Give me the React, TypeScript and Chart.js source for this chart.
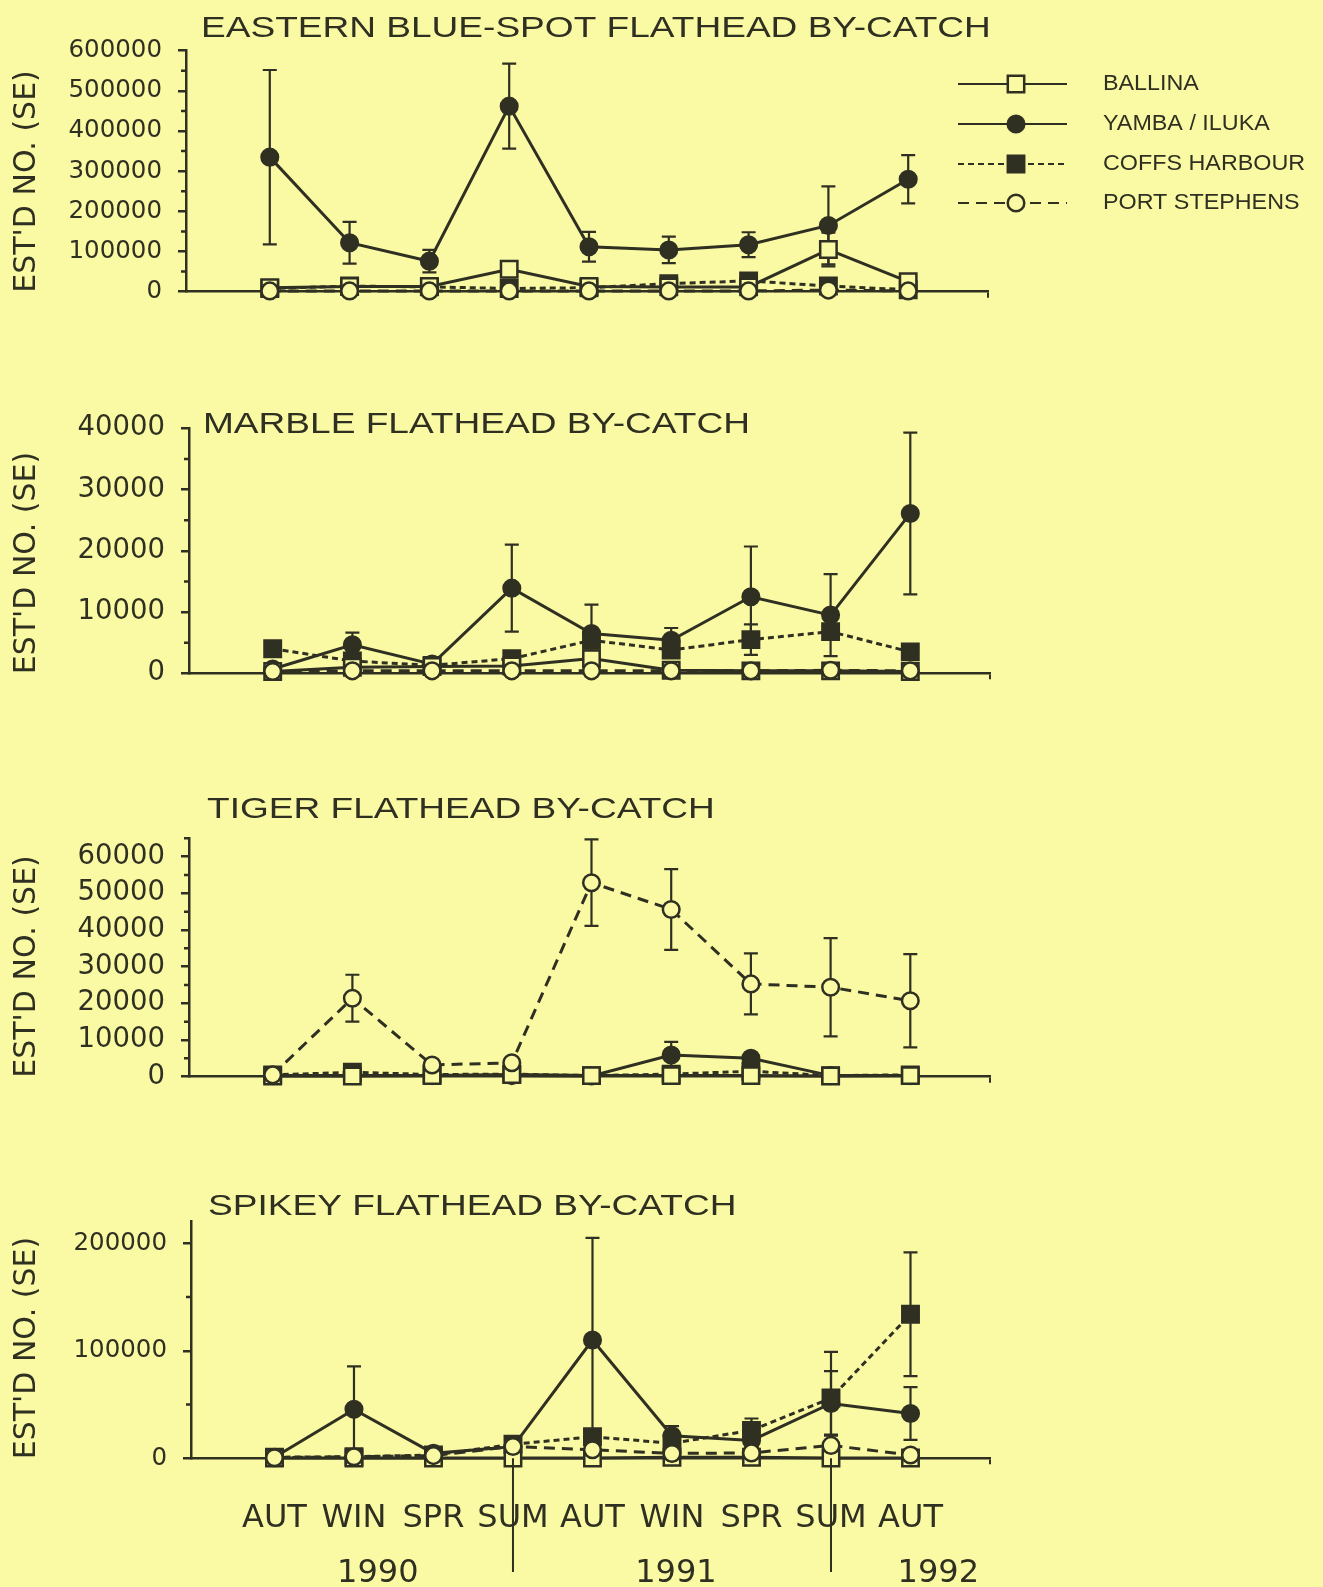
import React, { useEffect, useRef } from 'react';
import { Chart, registerables } from 'chart.js';
Chart.register(...registerables);

const BG = 'rgb(250,250,165)';
const INK = 'rgb(48,48,34)';

// ---------- categories / labels ----------
const seasons = ['AUT', 'WIN', 'SPR', 'SUM', 'AUT', 'WIN', 'SPR', 'SUM', 'AUT'];
const seriesNames = ['BALLINA', 'YAMBA / ILUKA', 'COFFS HARBOUR', 'PORT STEPHENS'];
const yearLabels = ['1990', '1991', '1992'];
const yearPositions = [1.3, 5.05, 8.35];
const yearDividers = [3, 7];

// ---------- Eastern blue-spot ----------
const blueSpotBallina = [10000, 13000, 13000, 56000, 13000, 12000, 12000, 105000, 25000];
const blueSpotBallinaErr = [0, 0, 0, 20000, 0, 0, 0, 42000, 0];
const blueSpotYamba = [335000, 122000, 76000, 462000, 112000, 104000, 117000, 165000, 280000];
const blueSpotYambaErr = [217000, 52000, 28000, 106000, 37000, 33000, 31000, 97000, 60000];
const blueSpotCoffs = [8000, 14000, 12000, 8000, 10000, 20000, 27000, 14000, 5000];
const blueSpotCoffsErr = [0, 0, 0, 0, 0, 0, 0, 0, 0];
const blueSpotPort = [2000, 2000, 2000, 2000, 2000, 2000, 2000, 4000, 2000];
const blueSpotPortErr = [0, 0, 0, 0, 0, 0, 0, 0, 0];
const blueSpotTicks = [0, 100000, 200000, 300000, 400000, 500000, 600000];
const blueSpotMinorTicks = [50000, 150000, 250000, 350000, 450000, 550000];

// ---------- Marble ----------
const marbleBallina = [300, 1000, 1100, 1200, 2400, 500, 400, 400, 300];
const marbleBallinaErr = [0, 0, 0, 0, 0, 0, 0, 0, 0];
const marbleYamba = [700, 4650, 1500, 13900, 6500, 5400, 12500, 9500, 26100];
const marbleYambaErr = [0, 2000, 0, 7100, 4700, 2000, 8200, 6700, 13200];
const marbleCoffs = [4000, 2000, 1300, 2400, 5400, 3800, 5500, 6800, 3500];
const marbleCoffsErr = [1200, 0, 0, 0, 0, 0, 2500, 0, 0];
const marblePort = [300, 400, 400, 400, 400, 400, 400, 500, 400];
const marblePortErr = [0, 0, 0, 0, 0, 0, 0, 0, 0];
const marbleTicks = [0, 10000, 20000, 30000, 40000];
const marbleMinorTicks = [5000, 15000, 25000, 35000];

// ---------- Tiger ----------
const tigerBallina = [200, 200, 300, 600, 300, 300, 300, 200, 300];
const tigerBallinaErr = [0, 0, 0, 0, 0, 0, 0, 0, 0];
const tigerYamba = [300, 300, 300, 300, 200, 5900, 5000, 300, 300];
const tigerYambaErr = [0, 0, 0, 0, 0, 3600, 1500, 0, 0];
const tigerCoffs = [500, 1200, 600, 700, 300, 700, 1500, 300, 500];
const tigerCoffsErr = [0, 0, 0, 0, 0, 0, 0, 0, 0];
const tigerPort = [500, 21400, 3200, 3800, 52900, 45600, 25300, 24400, 20700];
const tigerPortErr = [0, 6400, 0, 0, 11800, 11000, 8300, 13400, 12700];
const tigerTicks = [0, 10000, 20000, 30000, 40000, 50000, 60000];
const tigerMinorTicks = [5000, 15000, 25000, 35000, 45000, 55000, 65000];

// ---------- Spikey ----------
const spikeyBallina = [300, 300, 300, 300, 300, 1000, 1000, 300, 300];
const spikeyBallinaErr = [0, 0, 0, 0, 0, 0, 0, 0, 0];
const spikeyYamba = [1000, 45500, 4600, 10800, 110000, 21000, 16600, 51000, 41700];
const spikeyYambaErr = [0, 40000, 0, 0, 95000, 9000, 0, 30000, 24500];
const spikeyCoffs = [1000, 1500, 3000, 13000, 20000, 14000, 26000, 56000, 134000];
const spikeyCoffsErr = [0, 0, 0, 0, 0, 0, 11000, 43000, 57500];
const spikeyPort = [500, 1500, 2500, 11000, 8000, 4500, 5000, 12000, 3000];
const spikeyPortErr = [0, 0, 0, 0, 0, 0, 0, 10000, 0];
const spikeyTicks = [0, 100000, 200000];
const spikeyMinorTicks = [50000, 150000];

// ---------- styles per series (Ballina, Yamba, Coffs, Port Stephens) ----------
const SERIES_STYLE = [
  { dash: [], shape: 'rect', filled: false, order: 1 },
  { dash: [], shape: 'circle', filled: true, order: 2 },
  { dash: [6, 4], shape: 'rect', filled: true, order: 3 },
  { dash: [11, 7], shape: 'circle', filled: false, order: 0 },
];
const CIRCLE_R = 8.3;
const RECT_R = 11.6;

// ---------- panel layout ----------
const PANELS = [
  {
    title: 'EASTERN BLUE-SPOT FLATHEAD BY-CATCH',
    values: [blueSpotBallina, blueSpotYamba, blueSpotCoffs, blueSpotPort],
    errors: [blueSpotBallinaErr, blueSpotYambaErr, blueSpotCoffsErr, blueSpotPortErr],
    yMax: 600000, ticks: blueSpotTicks, minor: blueSpotMinorTicks, tickFont: 24.5,
    band: [0, 345], area: { left: 186, right: 988, top: 50.7, bottom: 291.7 },
    titlePos: [201, 37], legend: true, xLabels: false,
  },
  {
    title: 'MARBLE FLATHEAD BY-CATCH',
    values: [marbleBallina, marbleYamba, marbleCoffs, marblePort],
    errors: [marbleBallinaErr, marbleYambaErr, marbleCoffsErr, marblePortErr],
    yMax: 40000, ticks: marbleTicks, minor: marbleMinorTicks, tickFont: 27.5,
    band: [345, 730], area: { left: 189, right: 990, top: 428.3, bottom: 673.3 },
    titlePos: [203, 433], legend: false, xLabels: false,
  },
  {
    title: 'TIGER FLATHEAD BY-CATCH',
    values: [tigerBallina, tigerYamba, tigerCoffs, tigerPort],
    errors: [tigerBallinaErr, tigerYambaErr, tigerCoffsErr, tigerPortErr],
    yMax: 65000, ticks: tigerTicks, minor: tigerMinorTicks, tickFont: 27.5,
    band: [730, 1110], area: { left: 189, right: 990, top: 838.3, bottom: 1076.7 },
    titlePos: [207, 818], legend: false, xLabels: false,
  },
  {
    title: 'SPIKEY FLATHEAD BY-CATCH',
    values: [spikeyBallina, spikeyYamba, spikeyCoffs, spikeyPort],
    errors: [spikeyBallinaErr, spikeyYambaErr, spikeyCoffsErr, spikeyPortErr],
    yMax: 220000, ticks: spikeyTicks, minor: spikeyMinorTicks, tickFont: 24.5,
    band: [1110, 1587], area: { left: 191, right: 990, top: 1221.7, bottom: 1458.3 },
    titlePos: [208, 1215], legend: false, xLabels: true,
  },
];

const W = 1323;

function drawMarker(ctx: CanvasRenderingContext2D, x: number, y: number, st: any) {
  ctx.save();
  ctx.setLineDash([]);
  ctx.lineWidth = 2.5;
  ctx.strokeStyle = INK;
  ctx.fillStyle = st.filled ? INK : BG;
  ctx.beginPath();
  if (st.shape === 'rect') {
    const s = RECT_R * Math.SQRT1_2;
    ctx.rect(x - s, y - s, 2 * s, 2 * s);
  } else {
    ctx.arc(x, y, CIRCLE_R, 0, Math.PI * 2);
  }
  ctx.fill();
  ctx.stroke();
  ctx.restore();
}

const errorBarPlugin = {
  id: 'errorBars',
  beforeDatasetsDraw(chart: any) {
    const ctx = chart.ctx;
    const ys = chart.scales.y;
    chart.data.datasets.forEach((ds: any, di: number) => {
      const meta = chart.getDatasetMeta(di);
      const errs = ds.errors || [];
      meta.data.forEach((pt: any, i: number) => {
        const e = errs[i];
        if (!e) return;
        const v = ds.data[i].y;
        const yt = ys.getPixelForValue(v + e);
        const yb = ys.getPixelForValue(Math.max(0, v - e));
        ctx.save();
        ctx.setLineDash([]);
        ctx.strokeStyle = INK;
        ctx.lineWidth = 2.2;
        ctx.beginPath();
        ctx.moveTo(pt.x, yt);
        ctx.lineTo(pt.x, yb);
        ctx.moveTo(pt.x - 7, yt);
        ctx.lineTo(pt.x + 7, yt);
        ctx.moveTo(pt.x - 7, yb);
        ctx.lineTo(pt.x + 7, yb);
        ctx.stroke();
        ctx.restore();
      });
    });
  },
};

function makeTextPlugin(panel: any) {
  return {
    id: 'panelText',
    afterDraw(chart: any) {
      const ctx: CanvasRenderingContext2D = chart.ctx;
      const off = panel.band[0];
      const xs = chart.scales.x;
      const ys = chart.scales.y;
      ctx.save();
      ctx.fillStyle = INK;
      ctx.strokeStyle = INK;

      // minor y ticks
      ctx.lineWidth = 2.5;
      ctx.beginPath();
      panel.minor.forEach((v: number) => {
        const py = ys.getPixelForValue(v);
        ctx.moveTo(xs.left, py);
        ctx.lineTo(xs.left - 5, py);
      });
      ctx.stroke();

      // title
      ctx.save();
      ctx.font = '30px "Liberation Sans", Arial, sans-serif';
      ctx.textBaseline = 'alphabetic';
      ctx.textAlign = 'left';
      ctx.translate(panel.titlePos[0], panel.titlePos[1] - off);
      ctx.scale(1.235, 1);
      ctx.fillText(panel.title, 0, 0);
      ctx.restore();

      // y axis title
      ctx.save();
      ctx.font = '30px "DejaVu Sans", sans-serif';
      ctx.textBaseline = 'alphabetic';
      ctx.textAlign = 'left';
      ctx.translate(35, ys.bottom + 1);
      ctx.rotate(-Math.PI / 2);
      ctx.fillText("EST'D NO. (SE)", 0, 0);
      ctx.restore();

      if (panel.legend) {
        const rows = [84, 124, 164, 203];
        seriesNames.forEach((name, i) => {
          const st = SERIES_STYLE[i];
          const y = rows[i] - off;
          ctx.save();
          ctx.lineWidth = 2;
          ctx.setLineDash(st.dash);
          ctx.beginPath();
          ctx.moveTo(958, y);
          ctx.lineTo(1067, y);
          ctx.stroke();
          ctx.restore();
          drawMarker(ctx, 1016, y, st);
          ctx.save();
          ctx.font = '22px "Liberation Sans", Arial, sans-serif';
          ctx.textBaseline = 'middle';
          ctx.textAlign = 'left';
          ctx.translate(1103, y);
          ctx.scale(1.06, 1);
          ctx.fillText(name, 0, 0);
          ctx.restore();
        });
      }

      if (panel.xLabels) {
        ctx.lineWidth = 2;
        ctx.beginPath();
        yearDividers.forEach((d) => {
          const px = xs.getPixelForValue(d);
          ctx.moveTo(px, ys.bottom);
          ctx.lineTo(px, 1572 - off);
        });
        ctx.stroke();
        ctx.font = '32px "DejaVu Sans", sans-serif';
        ctx.textAlign = 'center';
        ctx.textBaseline = 'alphabetic';
        yearLabels.forEach((lab, i) => {
          ctx.fillText(lab, xs.getPixelForValue(yearPositions[i]), 1582 - off);
        });
      }
      ctx.restore();
    },
  };
}

function buildConfig(panel: any): any {
  const [bandTop, bandBottom] = panel.band;
  const datasets = panel.values.map((vals: number[], si: number) => {
    const st = SERIES_STYLE[si];
    return {
      label: seriesNames[si],
      data: vals.map((v, i) => ({ x: i, y: v })),
      errors: panel.errors[si],
      borderColor: INK,
      borderWidth: 3,
      borderDash: st.dash,
      pointStyle: st.shape,
      pointRadius: st.shape === 'rect' ? RECT_R : CIRCLE_R,
      pointBorderWidth: 2.5,
      pointBorderColor: INK,
      pointBackgroundColor: st.filled ? INK : BG,
      tension: 0,
      fill: false,
      clip: false,
      order: st.order,
    };
  });
  const xTickValues = [0, 1, 2, 3, 4, 5, 6, 7, 8, 9];
  const leftW = panel.area.left;
  const bottomH = bandBottom - panel.area.bottom;
  return {
    type: 'line',
    data: { datasets },
    options: {
      responsive: false,
      animation: false,
      devicePixelRatio: 1,
      events: [],
      layout: {
        autoPadding: false,
        padding: {
          left: 0,
          right: W - panel.area.right,
          top: panel.area.top - bandTop,
          bottom: 0,
        },
      },
      plugins: {
        legend: { display: false },
        tooltip: { enabled: false },
        title: { display: false },
      },
      scales: {
        x: {
          type: 'linear',
          min: -1.05,
          max: 9,
          afterBuildTicks: (s: any) => {
            s.ticks = xTickValues.map((v) => ({ value: v }));
          },
          afterFit: (s: any) => {
            s.height = bottomH;
          },
          grid: { drawOnChartArea: false, drawTicks: true, tickLength: 6, color: INK, lineWidth: 2 },
          border: { display: true, color: INK, width: 2.5 },
          ticks: {
            display: panel.xLabels,
            autoSkip: false,
            maxRotation: 0,
            minRotation: 0,
            padding: 35,
            color: INK,
            font: { family: 'DejaVu Sans', size: 32 },
            callback: (v: any) => seasons[v] ?? '',
          },
        },
        y: {
          type: 'linear',
          min: 0,
          max: panel.yMax,
          afterBuildTicks: (s: any) => {
            s.ticks = panel.ticks.map((v: number) => ({ value: v }));
          },
          afterFit: (s: any) => {
            s.width = leftW;
          },
          grid: { drawOnChartArea: false, drawTicks: true, tickLength: 8, color: INK, lineWidth: 2.5 },
          border: { display: true, color: INK, width: 2.5 },
          ticks: {
            padding: 16,
            color: INK,
            font: { family: 'DejaVu Sans', size: panel.tickFont },
            callback: (v: any) => String(v),
          },
        },
      },
    },
    plugins: [errorBarPlugin, makeTextPlugin(panel)],
  };
}

function Panel({ panel }: { panel: any }) {
  const ref = useRef<HTMLCanvasElement>(null);
  const h = panel.band[1] - panel.band[0];
  useEffect(() => {
    const chart = new Chart(ref.current as HTMLCanvasElement, buildConfig(panel));
    return () => chart.destroy();
  }, [panel]);
  return (
    <canvas
      ref={ref}
      width={W}
      height={h}
      style={{ position: 'absolute', left: 0, top: panel.band[0], width: W, height: h, display: 'block' }}
    />
  );
}

export default function App() {
  useEffect(() => {
    document.body.style.margin = '0';
    document.body.style.background = BG;
  }, []);
  return (
    <div style={{ position: 'absolute', left: 0, top: 0, width: W, height: 1587, background: BG, overflow: 'hidden' }}>
      {PANELS.map((p, i) => (
        <Panel key={i} panel={p} />
      ))}
    </div>
  );
}
